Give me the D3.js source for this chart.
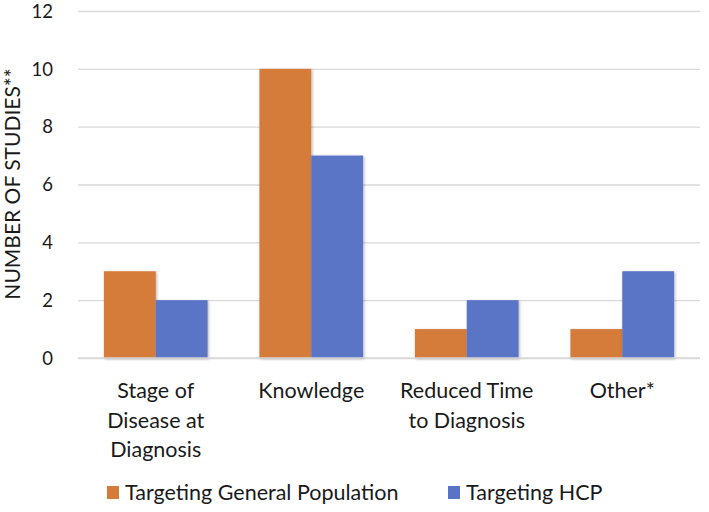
<!DOCTYPE html>
<html>
<head>
<meta charset="utf-8">
<script src="https://cdn.jsdelivr.net/npm/d3@7"></script>
<style>
body { margin: 0; background: #fff; }
text { font-family: Lato, "Open Sans", sans-serif; fill: #1a1a1a; }
</style>
</head>
<body>
<script>
"use strict";
const categories = [["Stage of", "Disease at", "Diagnosis"], ["Knowledge"], ["Reduced Time", "to Diagnosis"], ["Other*"]];
const seriesNames = ["Targeting General Population", "Targeting HCP"];
const generalPop = [3, 10, 1, 1];
const hcp = [2, 7, 2, 3];
const yTicks = [0, 2, 4, 6, 8, 10, 12];
const colors = ["#d57b3a", "#5a74c5"];

const size = {"width": 709, "height": 512};
const margin = {"top": 11, "right": 9, "bottom": 154, "left": 78};

const svg = d3.select("body").append("svg").attr("width", size.width).attr("height", size.height);
const defs = svg.append("defs");
const f = defs.append("filter").attr("id", "shadow").attr("x", "-20%").attr("y", "-20%").attr("width", "140%").attr("height", "140%");
f.append("feDropShadow").attr("dx", 1).attr("dy", 1).attr("stdDeviation", 1.5).attr("flood-color", "#000").attr("flood-opacity", 0.3);

const x0 = d3.scaleBand().domain(d3.range(categories.length)).range([margin.left, size.width - margin.right]);
const x1 = d3.scaleBand().domain([0, 1]).range([0, x0.bandwidth()]).paddingOuter(0.5).paddingInner(0);
const y = d3.scaleLinear().domain([0, 12]).range([size.height - margin.bottom, margin.top]);

// gridlines
const yAxis = d3.axisLeft(y).tickValues(yTicks).tickSize(-(size.width - margin.left - margin.right)).tickPadding(25);
const ga = svg.append("g").attr("transform", "translate(" + margin.left + ",0)").call(yAxis);
ga.select(".domain").remove();
ga.selectAll(".tick line").attr("stroke", "#d9d9d9").attr("stroke-width", 1.3);
ga.selectAll(".tick text").style("font-size", "18.5px").attr("fill", "#1a1a1a").attr("dy", "0.34em");

const data = [];
categories.forEach((c, i) => {
	data.push({"cat": i, "s": 0, "v": generalPop[i]});
	data.push({"cat": i, "s": 1, "v": hcp[i]});
});

svg.append("g").selectAll("rect")
	.data(data)
	.enter()
	.append("rect")
	.attr("x", d => x0(d.cat) + x1(d.s))
	.attr("y", d => y(d.v))
	.attr("width", x1.bandwidth())
	.attr("height", d => y(0) - y(d.v))
	.attr("fill", d => colors[d.s])
	.attr("filter", "url(#shadow)");

// x axis line
svg.append("line")
	.attr("x1", margin.left).attr("x2", size.width - margin.right)
	.attr("y1", y(0)).attr("y2", y(0))
	.attr("stroke", "#d9d9d9").attr("stroke-width", 1.3);

// category labels
const cl = svg.append("g").selectAll("text")
	.data(categories)
	.enter()
	.append("text")
	.attr("text-anchor", "middle")
	.style("font-size", "21.5px")
	.attr("x", (d, i) => x0(i) + x0.bandwidth() / 2)
	.attr("y", y(0) + 40);
cl.selectAll("tspan")
	.data(d => d)
	.enter()
	.append("tspan")
	.attr("x", function () { return d3.select(this.parentNode).attr("x"); })
	.attr("dy", (d, i) => i === 0 ? 0 : 29.5)
	.text(d => d);

// y title
svg.append("text")
	.attr("transform", "translate(20,184) rotate(-90)")
	.attr("text-anchor", "middle")
	.style("font-size", "21px")
	.text("NUMBER OF STUDIES**");

// legend
const legendX = [107, 448];
const lg = svg.append("g").selectAll("g")
	.data(seriesNames)
	.enter()
	.append("g")
	.attr("transform", (d, i) => "translate(" + legendX[i] + ",486)");
lg.append("rect").attr("width", 12).attr("height", 13).attr("fill", (d, i) => colors[i]);
lg.append("text").attr("x", 18).attr("y", 14).style("font-size", "21.5px").text(d => d);
</script>
</body>
</html>
